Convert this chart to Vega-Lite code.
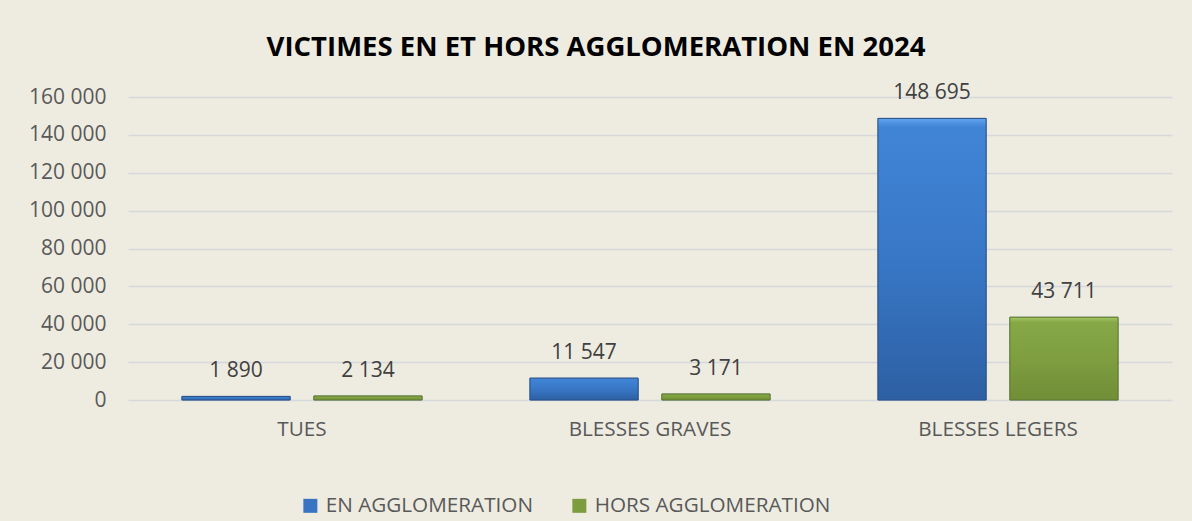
{
  "$schema": "https://vega.github.io/schema/vega-lite/v6.json",
  "width": 1044,
  "height": 303,
  "autosize": {"type": "none"},
  "padding": {"left": 128, "top": 97, "right": 20, "bottom": 121},
  "background": "#EEECE1",
  "title": {
    "text": "VICTIMES EN ET HORS AGGLOMERATION EN 2024",
    "font": "Open Sans",
    "fontSize": 27.5,
    "fontWeight": "bold",
    "color": "#000000",
    "anchor": "middle",
    "dx": -54,
    "offset": 21
  },
  "data": {
    "values": [
      {"categorie": "TUES", "zone": "EN AGGLOMERATION", "victimes": 1890},
      {"categorie": "TUES", "zone": "HORS AGGLOMERATION", "victimes": 2134},
      {"categorie": "BLESSES GRAVES", "zone": "EN AGGLOMERATION", "victimes": 11547},
      {"categorie": "BLESSES GRAVES", "zone": "HORS AGGLOMERATION", "victimes": 3171},
      {"categorie": "BLESSES LEGERS", "zone": "EN AGGLOMERATION", "victimes": 148695},
      {"categorie": "BLESSES LEGERS", "zone": "HORS AGGLOMERATION", "victimes": 43711}
    ]
  },
  "encoding": {
    "x": {
      "field": "categorie",
      "type": "nominal",
      "sort": ["TUES", "BLESSES GRAVES", "BLESSES LEGERS"],
      "scale": {"paddingInner": 0.31, "paddingOuter": 0.155},
      "axis": {
        "title": null,
        "labelAngle": 0,
        "domain": false,
        "ticks": false,
        "labelFont": "Open Sans",
        "labelFontSize": 20.7,
        "labelColor": "#595959",
        "labelPadding": 19
      }
    },
    "xOffset": {
      "field": "zone",
      "type": "nominal",
      "sort": ["EN AGGLOMERATION", "HORS AGGLOMERATION"],
      "scale": {"paddingInner": 0.18, "paddingOuter": 0}
    },
    "y": {
      "field": "victimes",
      "type": "quantitative",
      "scale": {"domain": [0, 160000], "nice": false},
      "axis": {
        "title": null,
        "values": [0, 20000, 40000, 60000, 80000, 100000, 120000, 140000, 160000],
        "labelExpr": "replace(format(datum.value, ',d'), /,/g, ' ')",
        "domain": false,
        "ticks": false,
        "labelFont": "Open Sans",
        "labelFontSize": 21,
        "labelColor": "#595959",
        "labelPadding": 22,
        "gridColor": "#D6D8DC",
        "gridWidth": 1.5
      }
    }
  },
  "layer": [
    {
      "mark": {"type": "bar", "stroke": "#2B4F80", "strokeWidth": 1, "strokeOpacity": 0.5},
      "encoding": {
        "color": {
          "field": "zone",
          "type": "nominal",
          "sort": ["EN AGGLOMERATION", "HORS AGGLOMERATION"],
          "scale": {"range": ["#3874C2", "#7C9C3F"]},
          "legend": {
            "title": null,
            "orient": "none",
            "direction": "horizontal",
            "legendX": 172,
            "legendY": 398,
            "symbolType": "square",
            "symbolSize": 196,
            "symbolStrokeWidth": 0,
            "labelFont": "Open Sans",
            "labelFontSize": 20.7,
            "labelColor": "#595959",
            "labelOffset": 5,
            "labelLimit": 0,
            "columnPadding": 36
          }
        }
      }
    },
    {
      "transform": [{"filter": {"field": "zone", "equal": "EN AGGLOMERATION"}}],
      "mark": {
        "type": "bar",
        "stroke": "#2A5088",
        "strokeWidth": 1,
        "color": {"gradient": "linear", "x1": 0, "y1": 0, "x2": 0, "y2": 1, "stops": [
          {"offset": 0, "color": "#62A4EE"},
          {"offset": 0.03, "color": "#4185D6"},
          {"offset": 0.5, "color": "#3877C6"},
          {"offset": 1, "color": "#2D60A3"}
        ]}
      },
      "encoding": {}
    },
    {
      "transform": [{"filter": {"field": "zone", "equal": "HORS AGGLOMERATION"}}],
      "mark": {
        "type": "bar",
        "stroke": "#5E7A2C",
        "strokeWidth": 1,
        "color": {"gradient": "linear", "x1": 0, "y1": 0, "x2": 0, "y2": 1, "stops": [
          {"offset": 0, "color": "#A6C765"},
          {"offset": 0.06, "color": "#86A847"},
          {"offset": 0.5, "color": "#7E9E40"},
          {"offset": 1, "color": "#708E37"}
        ]}
      },
      "encoding": {}
    },
    {
      "mark": {
        "type": "text",
        "font": "Open Sans",
        "fontSize": 21,
        "color": "#404040",
        "baseline": "middle",
        "dy": -25
      },
      "encoding": {
        "text": {"field": "victimes", "type": "quantitative", "format": ",d"}
      }
    }
  ],
  "config": {
    "view": {"stroke": null},
    "locale": {"number": {"decimal": ",", "thousands": " ", "grouping": [3], "currency": ["", " €"]}}
  }
}
